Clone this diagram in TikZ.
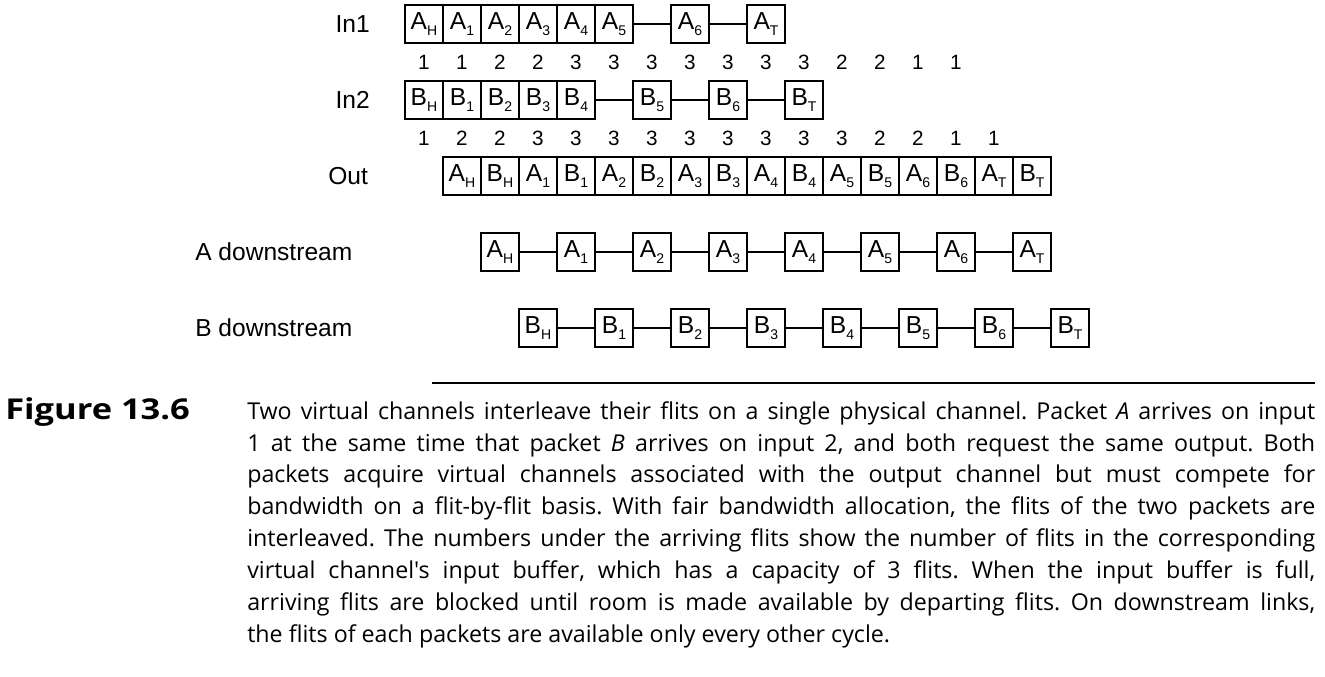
\documentclass[tikz,border=0pt]{standalone}
\usepackage{fontspec}
\setmainfont{Liberation Sans}
\newfontfamily\capfont{Open Sans}
\newfontfamily\figfont[FakeStretch=1.2]{Open Sans}
\usetikzlibrary{positioning}

\newcommand{\flit}[2]{#1\raisebox{-4.5pt}{\fontsize{10.5}{12}\selectfont #2}}

\begin{document}
\begin{tikzpicture}[
  flit/.style={draw, line width=1.1pt, minimum size=1cm, inner sep=0pt,
               font=\fontsize{18.4}{22}\selectfont},
  rowlabel/.style={font=\fontsize{18.4}{22}\selectfont, inner sep=0pt},
  fill level/.style={font=\fontsize{15.5}{18}\selectfont, inner sep=0pt},
  link/.style={line width=1.1pt},
  captext/.style={anchor=base west, inner sep=0pt,
                  font=\capfont\fontsize{17.4}{23.95}\selectfont},
]
\useasboundingbox (-10.658,0.632) rectangle (24.211,-17.158);

% input 1
\node[rowlabel, anchor=east] (in1) at (-0.92,0) {In1};
\node[flit] (a-h) at (0.5,0) {\flit{A}{H}};
\node[flit] (a-1) at (1.5,0) {\flit{A}{1}};
\node[flit] (a-2) at (2.5,0) {\flit{A}{2}};
\node[flit] (a-3) at (3.5,0) {\flit{A}{3}};
\node[flit] (a-4) at (4.5,0) {\flit{A}{4}};
\node[flit] (a-5) at (5.5,0) {\flit{A}{5}};
\node[flit] (a-6) at (7.5,0) {\flit{A}{6}};
\node[flit] (a-t) at (9.5,0) {\flit{A}{T}};
\draw[link] (a-5) -- (a-6);
\draw[link] (a-6) -- (a-t);
\foreach \n [count=\i] in {1,1,2,2,3,3,3,3,3,3,3,2,2,1,1}
  \node[fill level] (na-\i) at (\i-0.5,-1) {\n};

% input 2
\node[rowlabel, anchor=east] (in2) at (-0.92,-2) {In2};
\node[flit] (b-h) at (0.5,-2) {\flit{B}{H}};
\node[flit] (b-1) at (1.5,-2) {\flit{B}{1}};
\node[flit] (b-2) at (2.5,-2) {\flit{B}{2}};
\node[flit] (b-3) at (3.5,-2) {\flit{B}{3}};
\node[flit] (b-4) at (4.5,-2) {\flit{B}{4}};
\node[flit] (b-5) at (6.5,-2) {\flit{B}{5}};
\node[flit] (b-6) at (8.5,-2) {\flit{B}{6}};
\node[flit] (b-t) at (10.5,-2) {\flit{B}{T}};
\draw[link] (b-4) -- (b-5);
\draw[link] (b-5) -- (b-6);
\draw[link] (b-6) -- (b-t);
\foreach \n [count=\i] in {1,2,2,3,3,3,3,3,3,3,3,3,2,2,1,1}
  \node[fill level] (nb-\i) at (\i-0.5,-3) {\n};

% output, interleaved
\node[rowlabel, anchor=east] (out) at (-0.97,-4) {Out};
\node[flit] (o-1) at (1.5,-4) {\flit{A}{H}};
\node[flit] (o-2) at (2.5,-4) {\flit{B}{H}};
\node[flit] (o-3) at (3.5,-4) {\flit{A}{1}};
\node[flit] (o-4) at (4.5,-4) {\flit{B}{1}};
\node[flit] (o-5) at (5.5,-4) {\flit{A}{2}};
\node[flit] (o-6) at (6.5,-4) {\flit{B}{2}};
\node[flit] (o-7) at (7.5,-4) {\flit{A}{3}};
\node[flit] (o-8) at (8.5,-4) {\flit{B}{3}};
\node[flit] (o-9) at (9.5,-4) {\flit{A}{4}};
\node[flit] (o-10) at (10.5,-4) {\flit{B}{4}};
\node[flit] (o-11) at (11.5,-4) {\flit{A}{5}};
\node[flit] (o-12) at (12.5,-4) {\flit{B}{5}};
\node[flit] (o-13) at (13.5,-4) {\flit{A}{6}};
\node[flit] (o-14) at (14.5,-4) {\flit{B}{6}};
\node[flit] (o-15) at (15.5,-4) {\flit{A}{T}};
\node[flit] (o-16) at (16.5,-4) {\flit{B}{T}};

% downstream A
\node[rowlabel, anchor=west] (da) at (-5.526,-6) {A downstream};
\node[flit] (da-h) at (2.5,-6) {\flit{A}{H}};
\node[flit] (da-1) at (4.5,-6) {\flit{A}{1}};
\node[flit] (da-2) at (6.5,-6) {\flit{A}{2}};
\node[flit] (da-3) at (8.5,-6) {\flit{A}{3}};
\node[flit] (da-4) at (10.5,-6) {\flit{A}{4}};
\node[flit] (da-5) at (12.5,-6) {\flit{A}{5}};
\node[flit] (da-6) at (14.5,-6) {\flit{A}{6}};
\node[flit] (da-t) at (16.5,-6) {\flit{A}{T}};
\draw[link] (da-h) -- (da-1) -- (da-2) -- (da-3) -- (da-4) -- (da-5) -- (da-6) -- (da-t);

% downstream B
\node[rowlabel, anchor=west] (db) at (-5.526,-8) {B downstream};
\node[flit] (db-h) at (3.5,-8) {\flit{B}{H}};
\node[flit] (db-1) at (5.5,-8) {\flit{B}{1}};
\node[flit] (db-2) at (7.5,-8) {\flit{B}{2}};
\node[flit] (db-3) at (9.5,-8) {\flit{B}{3}};
\node[flit] (db-4) at (11.5,-8) {\flit{B}{4}};
\node[flit] (db-5) at (13.5,-8) {\flit{B}{5}};
\node[flit] (db-6) at (15.5,-8) {\flit{B}{6}};
\node[flit] (db-t) at (17.5,-8) {\flit{B}{T}};
\draw[link] (db-h) -- (db-1) -- (db-2) -- (db-3) -- (db-4) -- (db-5) -- (db-6) -- (db-t);

% caption
\draw[line width=1.5pt] (0.711,-9.447) -- (23.947,-9.447);
\node[captext, font=\figfont\bfseries\fontsize{21.5}{23.95}\selectfont] (fig) at (-10.526,-10.395) {Figure 13.6};
\node[captext, text width=28.105cm, align=justify] (caption) at (-4.158,-10.395) {\frenchspacing
Two virtual channels interleave their flits on a single physical channel. Packet \textit{A} arrives on input\linebreak
1 at the same time that packet \textit{B} arrives on input 2, and both request the same output. Both\linebreak
packets acquire virtual channels associated with the output channel but must compete for\linebreak
bandwidth on a flit-by-flit basis. With fair bandwidth allocation, the flits of the two packets are\linebreak
interleaved. The numbers under the arriving flits show the number of flits in the corresponding\linebreak
virtual channel's input buffer, which has a capacity of 3 flits. When the input buffer is full,\linebreak
arriving flits are blocked until room is made available by departing flits. On downstream links,\linebreak
the flits of each packets are available only every other cycle.};
\end{tikzpicture}
\end{document}
